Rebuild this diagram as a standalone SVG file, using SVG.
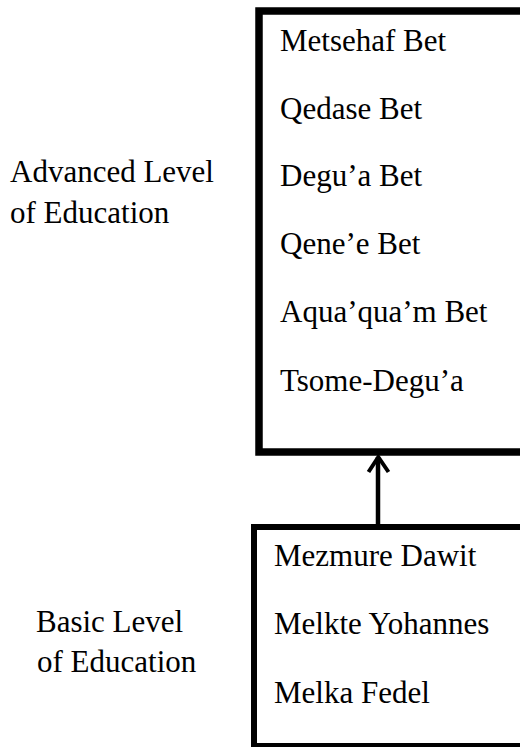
<svg xmlns="http://www.w3.org/2000/svg" width="520" height="747" viewBox="0 0 520 747">
<style>
.t { font-family: 'Liberation Serif', 'Times New Roman', serif; font-size: 31px; fill: #000; }
.box { fill: none; stroke: #000; }
.conn { fill: none; stroke: #000; stroke-linecap: butt; }
</style>
<rect width="520" height="747" fill="#fff"/>
<g id="advanced-label" class="t">
<text x="10" y="182">Advanced Level</text>
<text x="10" y="223">of Education</text>
</g>
<g id="basic-label" class="t">
<text x="36" y="632">Basic Level</text>
<text x="37" y="672">of Education</text>
</g>
<g id="advanced-box">
<rect class="box" x="259" y="11" width="300" height="441" stroke-width="7.5"/>
<g class="t">
<text x="280" y="51">Metsehaf Bet</text>
<text x="280" y="119">Qedase Bet</text>
<text x="280" y="186">Degu’a Bet</text>
<text x="280" y="254">Qene’e Bet</text>
<text x="280" y="322">Aqua’qua’m Bet</text>
<text x="280" y="391">Tsome-Degu’a</text>
</g>
</g>
<g id="basic-box">
<rect class="box" x="254" y="527" width="300" height="219" stroke-width="6"/>
<g class="t">
<text x="274" y="566">Mezmure Dawit</text>
<text x="274" y="634">Melkte Yohannes</text>
<text x="274" y="703">Melka Fedel</text>
</g>
</g>
<g id="connectors">
<line class="conn" x1="378" y1="524" x2="378" y2="457" stroke-width="4.5"/>
<polyline class="conn" points="368.5,472 378.3,457 388.5,472" stroke-width="4" stroke-linejoin="miter"/>
</g>
</svg>
